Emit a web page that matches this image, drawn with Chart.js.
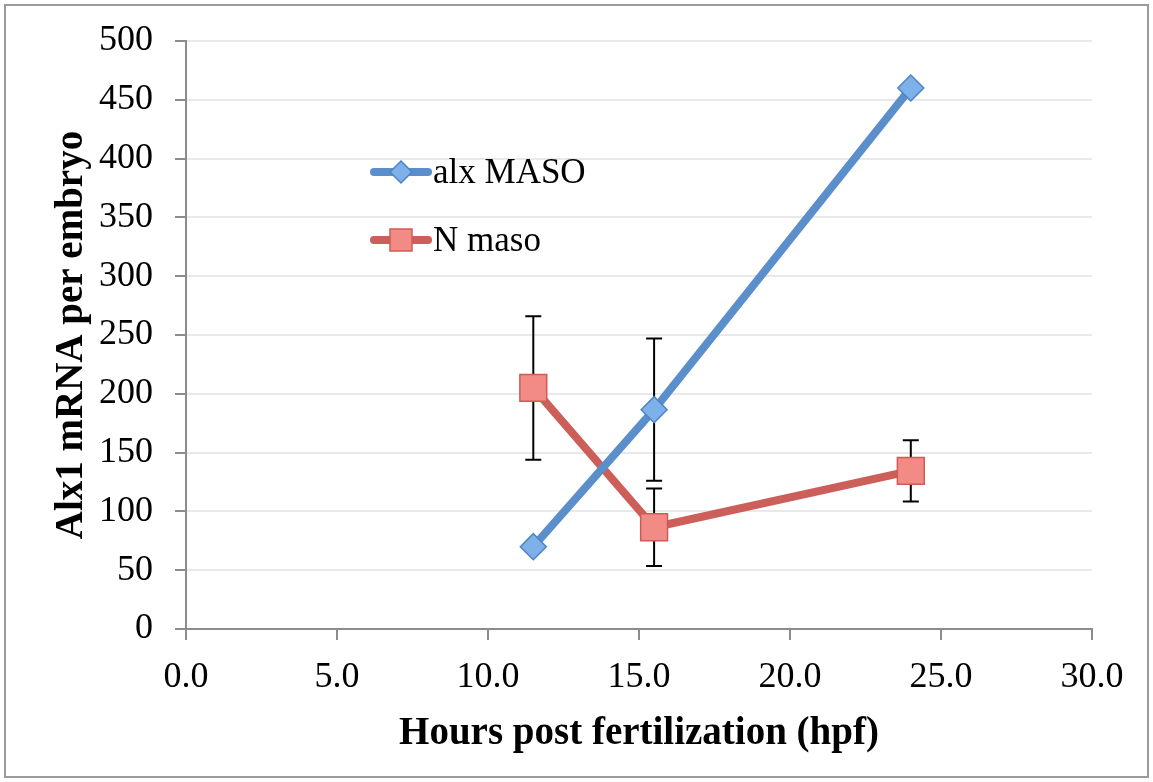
<!DOCTYPE html>
<html>
<head>
<meta charset="utf-8">
<script src="https://cdn.jsdelivr.net/npm/chart.js@4/dist/chart.umd.min.js"></script>
<style>
  html, body { margin: 0; padding: 0; background: #fff; }
  #wrap { width: 1153px; height: 782px; position: relative; }
</style>
</head>
<body>
<div id="wrap"><canvas id="chart"></canvas></div>
<script>
// data
const hours = [11.5, 15.5, 24];
const alxMaso = [70, 186.5, 460];
const alxMasoErr = [4, 60.5, 0];
const nMaso = [205, 86.5, 134.5];
const nMasoErr = [61, 33, 26];
const seriesNames = ['alx MASO', 'N maso'];
const xTitle = 'Hours post fertilization (hpf)';
const yTitle = 'Alx1 mRNA per embryo';

const serif = "'Liberation Serif', 'DejaVu Serif', serif";

function toPoints(xs, ys) {
  return xs.map((x, i) => ({ x: x, y: ys[i] }));
}

// error bars, drawn through the scales
const errorBars = {
  id: 'errorBars',
  beforeDatasetsDraw(chart) {
    const ctx = chart.ctx;
    const xs = chart.scales.x;
    const ys = chart.scales.y;
    const errs = [alxMasoErr, nMasoErr];
    ctx.save();
    ctx.strokeStyle = '#000';
    ctx.lineWidth = 2;
    chart.data.datasets.forEach((ds, di) => {
      ds.data.forEach((p, i) => {
        const e = errs[di][i];
        if (!e) return;
        const px = xs.getPixelForValue(p.x);
        const top = ys.getPixelForValue(p.y + e);
        const bot = ys.getPixelForValue(p.y - e);
        ctx.beginPath();
        ctx.moveTo(px, top); ctx.lineTo(px, bot);
        ctx.moveTo(px - 8, top); ctx.lineTo(px + 8, top);
        ctx.moveTo(px - 8, bot); ctx.lineTo(px + 8, bot);
        ctx.stroke();
      });
    });
    ctx.restore();
  }
};

// frame + legend inside plot
const decor = {
  id: 'decor',
  beforeDraw(chart) {
    const ctx = chart.ctx;
    ctx.save();
    ctx.strokeStyle = '#9a9a9a';
    ctx.lineWidth = 2;
    ctx.strokeRect(5, 5, chart.width - 10, chart.height - 10);
    ctx.restore();
  },
  afterDraw(chart) {
    const ctx = chart.ctx;
    const rows = [172, 240];
    ctx.save();
    chart.data.datasets.forEach((ds, i) => {
      const y = rows[i];
      ctx.strokeStyle = ds.borderColor;
      ctx.lineWidth = 8;
      ctx.lineCap = 'round';
      ctx.beginPath();
      ctx.moveTo(374, y); ctx.lineTo(428, y);
      ctx.stroke();
      ctx.fillStyle = ds.pointBackgroundColor;
      ctx.strokeStyle = ds.pointBorderColor;
      ctx.lineWidth = 1.5;
      ctx.beginPath();
      if (ds.pointStyle === 'rectRot') {
        ctx.moveTo(401, y - 11); ctx.lineTo(412, y); ctx.lineTo(401, y + 11); ctx.lineTo(390, y);
        ctx.closePath();
      } else {
        ctx.rect(390, y - 11, 22, 22);
      }
      ctx.fill(); ctx.stroke();
      ctx.fillStyle = '#000';
      ctx.font = '35px ' + serif;
      ctx.textBaseline = 'middle';
      ctx.fillText(ds.label, 433, y + 2);
    });
    ctx.restore();
  }
};

new Chart(document.getElementById('chart'), {
  type: 'scatter',
  data: {
    datasets: [{
      label: seriesNames[0],
      data: toPoints(hours, alxMaso),
      showLine: true,
      borderColor: '#5a8fcb',
      borderWidth: 8,
      pointStyle: 'rectRot',
      pointRadius: 13,
      pointHoverRadius: 13,
      pointBackgroundColor: '#7eb0ea',
      pointBorderColor: '#4f84c4',
      pointBorderWidth: 1.5
    }, {
      label: seriesNames[1],
      data: toPoints(hours, nMaso),
      showLine: true,
      borderColor: '#cc5f5a',
      borderWidth: 8,
      pointStyle: 'rect',
      pointRadius: 19,
      pointHoverRadius: 19,
      pointBackgroundColor: '#f28a86',
      pointBorderColor: '#cf5b56',
      pointBorderWidth: 1.5
    }]
  },
  options: {
    responsive: true,
    maintainAspectRatio: false,
    animation: false,
    layout: { padding: { left: 0, right: 61, top: 41, bottom: 0 } },
    plugins: { legend: { display: false }, tooltip: { enabled: false } },
    scales: {
      x: {
        type: 'linear',
        min: 0, max: 30,
        afterFit: s => { s.height = 153; },
        ticks: {
          stepSize: 5,
          color: '#000',
          padding: 16,
          font: { family: serif, size: 36 },
          callback: v => v.toFixed(1)
        },
        grid: { drawOnChartArea: false, tickColor: '#8c8c8c', tickLength: 11, lineWidth: 2 },
        border: { color: '#8c8c8c', width: 2 },
        title: {
          display: true, text: xTitle, color: '#000',
          font: { family: serif, size: 39, weight: 'bold', lineHeight: 1.2 },
          padding: { top: 0, bottom: 25 }
        }
      },
      y: {
        min: 0, max: 500,
        afterFit: s => { s.width = 186; s.paddingTop = 0; s.paddingBottom = 0; },
        ticks: {
          stepSize: 50,
          color: '#000',
          padding: 22,
          font: { family: serif, size: 36 }
        },
        grid: { color: '#e9e9e9', lineWidth: 2, tickColor: '#8c8c8c', tickLength: 11 },
        border: { color: '#8c8c8c', width: 2 },
        title: {
          display: true, text: yTitle, color: '#000',
          font: { family: serif, size: 39, weight: 'bold', lineHeight: 1.2 },
          padding: { top: 49, bottom: 0 }
        }
      }
    }
  },
  plugins: [errorBars, decor]
});
</script>
</body>
</html>
